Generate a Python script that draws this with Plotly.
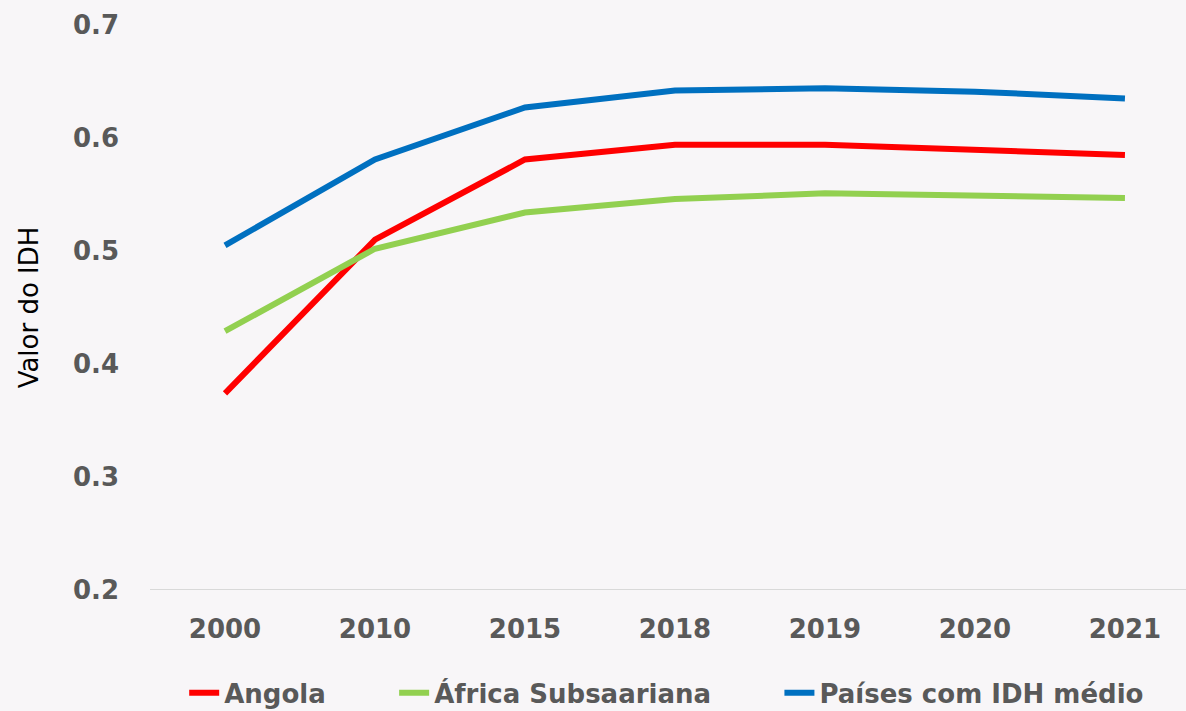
import plotly.graph_objects as go

years = ["2000", "2010", "2015", "2018", "2019", "2020", "2021"]
angola = [0.374, 0.510, 0.581, 0.594, 0.594, 0.589, 0.585]
africa = [0.429, 0.502, 0.534, 0.546, 0.551, 0.549, 0.547]
medio = [0.505, 0.581, 0.627, 0.642, 0.644, 0.641, 0.635]
y_ticks = [0.2, 0.3, 0.4, 0.5, 0.6, 0.7]

names = ["Angola", "África Subsaariana", "Países com IDH médio"]
colors = ["#ff0000", "#92d050", "#0070c0"]
pads = ["\u00a0" * 7, "\u00a0" * 7, ""]

fig = go.Figure()
for nm, vals, c, p in zip(names, [angola, africa, medio], colors, pads):
    fig.add_trace(go.Scatter(x=years, y=vals, name=nm + p, mode="lines",
                             line=dict(color=c, width=6)))

fig.update_layout(
    width=1186, height=711,
    paper_bgcolor="#f8f6f8", plot_bgcolor="#f8f6f8",
    margin=dict(l=150, r=0, t=25, b=121, autoexpand=False),
    showlegend=True,
    legend=dict(orientation="h", x=0.033, xanchor="left", y=-0.182, yanchor="middle",
                font=dict(family="DejaVu Sans", size=26, color="#595959", weight="bold"),
                bgcolor="rgba(0,0,0,0)", itemwidth=30),
    xaxis=dict(type="category", range=[-0.5, 6.407], showgrid=False, zeroline=False,
               showline=False, ticks="", ticklabelstandoff=21,
               tickfont=dict(family="DejaVu Sans", size=26, color="#595959", weight="bold")),
    yaxis=dict(range=[0.2, 0.7], tickvals=y_ticks, ticktext=[f"{v:.1f}" for v in y_ticks],
               showgrid=False, zeroline=False, showline=False, ticks="",
               ticklabelstandoff=30,
               tickfont=dict(family="DejaVu Sans", size=26, color="#595959", weight="bold"),
               title=dict(text="Valor do IDH", font=dict(family="DejaVu Sans", size=26, color="#000000"),
                          standoff=26)),
)
fig.add_hline(y=0.2, line=dict(color="#d9d9d9", width=2), layer="below")
fig.write_html("out.html", config={"displayModeBar": False},
               post_script="document.body.style.margin='0';document.body.style.overflow='hidden';document.body.style.background='#f8f6f8';")
